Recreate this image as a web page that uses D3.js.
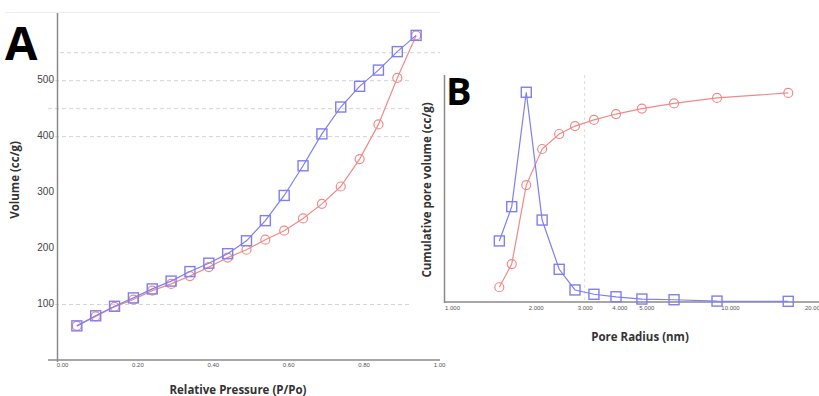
<!DOCTYPE html>
<html>
<head>
<meta charset="utf-8">
<script src="https://cdn.jsdelivr.net/npm/d3@7"></script>
<style>
  body { margin: 0; background: #fff; }
  svg { display: block; font-family: "Open Sans", "DejaVu Sans", sans-serif; }
</style>
</head>
<body>
<div id="chart"></div>
<script>
// panel A : isotherm
const pressure = [0.05, 0.10, 0.15, 0.20, 0.25, 0.30, 0.35, 0.40, 0.45, 0.50,
                  0.55, 0.60, 0.65, 0.70, 0.75, 0.80, 0.85, 0.90, 0.95];
const volBlue = [61, 79, 96, 111, 127, 141, 158, 173, 190, 213,
                 249, 294, 347, 404, 452, 489, 518, 551, 580];
const volRed  = [61, 78, 95, 108, 124, 136, 150, 166, 183, 197,
                 215, 231, 253, 279, 310, 359, 421, 504, 580];
const yTicksA = [100, 200, 300, 400, 500];
const yGridA = [100, 400, 450, 500, 550];
const xTicksA = [0, 0.2, 0.4, 0.6, 0.8, 1.0];

// panel B : pore size distribution
const radius = [1.48, 1.64, 1.85, 2.11, 2.43, 2.77, 3.24, 3.89, 4.82, 6.29, 8.98, 16.2];
const psdBlue = [0.269, 0.420, 0.924, 0.361, 0.144, 0.053, 0.034, 0.023, 0.013, 0.010, 0.004, 0.003];
const cumRed  = [0.065, 0.167, 0.515, 0.674, 0.740, 0.775, 0.802, 0.828, 0.852, 0.875, 0.899, 0.921];
const xTicksB = [1, 2, 3, 4, 5, 10, 20];

const W = 819, H = 396;
const blue = '#7f7ff0', red = '#f08a8a', axisCol = '#8a8a8a';

const svg = d3.select('#chart').append('svg').attr('width', W).attr('height', H);

// faint frame line at top of A
svg.append('line').attr('x1', 5).attr('x2', 440).attr('y1', 12.5).attr('y2', 12.5)
  .attr('stroke', '#eeeeee');

// ---------- A ----------
const xA = d3.scaleLinear().domain([0, 1]).range([58, 435]);
const yA = d3.scaleLinear().domain([0, 620]).range([360, 13]);

svg.append('g').selectAll('line').data(yGridA).enter().append('line')
  .attr('x1', d => d === 550 ? 60 : 48).attr('x2', d => d === 550 ? 440 : 411)
  .attr('y1', d => yA(d) + 0.5).attr('y2', d => yA(d) + 0.5)
  .attr('stroke', '#d4d4d4').attr('stroke-dasharray', '4,3');

// axes
svg.append('line').attr('x1', 57.5).attr('x2', 57.5).attr('y1', 13).attr('y2', 362)
  .attr('stroke', axisCol).attr('stroke-width', 1.5);
svg.append('line').attr('x1', 48).attr('x2', 440).attr('y1', 360).attr('y2', 360)
  .attr('stroke', axisCol).attr('stroke-width', 1.5);

const axA = d3.axisBottom(xA).tickValues(xTicksA).tickSize(0).tickPadding(3).tickFormat(d3.format('.2f'));
svg.append('g').attr('transform', 'translate(4,360)').call(axA)
  .call(g => g.select('.domain').remove())
  .selectAll('text').attr('font-size', 6).attr('fill', '#555');

const ayA = d3.axisLeft(yA).tickValues(yTicksA).tickSize(0).tickPadding(2);
svg.append('g').attr('transform', 'translate(56,-1)').call(ayA)
  .call(g => g.select('.domain').remove())
  .selectAll('text').attr('font-size', 10).attr('fill', '#444');

function drawSeries(xs, ys, xScale, yScale, color, shape) {
  const line = d3.line().x((d, i) => xScale(xs[i])).y(d => yScale(d));
  svg.append('path').datum(ys).attr('d', line)
    .attr('fill', 'none').attr('stroke', color).attr('stroke-width', 1.2);
  const g = svg.append('g');
  if (shape === 'square') {
    g.selectAll('rect').data(ys).enter().append('rect')
      .attr('x', (d, i) => xScale(xs[i]) - 5).attr('y', d => yScale(d) - 5)
      .attr('width', 10).attr('height', 10)
      .attr('fill', 'none').attr('stroke', color).attr('stroke-width', 1.4);
  } else {
    g.selectAll('circle').data(ys).enter().append('circle')
      .attr('cx', (d, i) => xScale(xs[i])).attr('cy', d => yScale(d)).attr('r', 4.5)
      .attr('fill', 'none').attr('stroke', color).attr('stroke-width', 1.2);
  }
}

drawSeries(pressure, volRed, xA, yA, red, 'circle');
drawSeries(pressure, volBlue, xA, yA, blue, 'square');

svg.append('text').attr('x', 5).attr('y', 60).text('A')
  .attr('font-size', 47).attr('font-weight', 'bold').attr('fill', '#000');
svg.append('text').attr('transform', 'translate(19,180) rotate(-90)')
  .attr('text-anchor', 'middle').attr('font-size', 11.5).attr('font-weight', 'bold')
  .attr('fill', '#333').text('Volume (cc/g)');
svg.append('text').attr('x', 238).attr('y', 394).attr('text-anchor', 'middle')
  .attr('font-size', 11.5).attr('font-weight', 'bold').attr('fill', '#333')
  .text('Relative Pressure (P/Po)');

// ---------- B ----------
const xB = d3.scaleLog().domain([1, 10]).range([452, 730]);
const yB = d3.scaleLinear().domain([0, 1]).range([302, 75]);

svg.append('line').attr('x1', xB(3)).attr('x2', xB(3)).attr('y1', 75).attr('y2', 302)
  .attr('stroke', '#dddddd').attr('stroke-dasharray', '3,3');

svg.append('line').attr('x1', 444.5).attr('x2', 444.5).attr('y1', 75).attr('y2', 303)
  .attr('stroke', axisCol).attr('stroke-width', 1.5);
svg.append('line').attr('x1', 444).attr('x2', 819).attr('y1', 302).attr('y2', 302)
  .attr('stroke', axisCol).attr('stroke-width', 1.5);

const axB = d3.axisBottom(xB).tickValues(xTicksB).tickSize(0).tickPadding(4).tickFormat(d3.format('.3f'));
svg.append('g').attr('transform', 'translate(0,302)').call(axB)
  .call(g => g.select('.domain').remove())
  .selectAll('text').attr('font-size', 6).attr('fill', '#555');

drawSeries(radius, cumRed, xB, yB, red, 'circle');
drawSeries(radius, psdBlue, xB, yB, blue, 'square');

svg.append('text').attr('x', 446).attr('y', 105).text('B')
  .attr('font-size', 38).attr('font-weight', 'bold').attr('fill', '#000');
svg.append('text').attr('transform', 'translate(431,190) rotate(-90)')
  .attr('text-anchor', 'middle').attr('font-size', 11.5).attr('font-weight', 'bold')
  .attr('fill', '#333').text('Cumulative pore volume (cc/g)');
svg.append('text').attr('x', 640).attr('y', 341).attr('text-anchor', 'middle')
  .attr('font-size', 11.5).attr('font-weight', 'bold').attr('fill', '#333')
  .text('Pore Radius (nm)');
</script>
</body>
</html>
